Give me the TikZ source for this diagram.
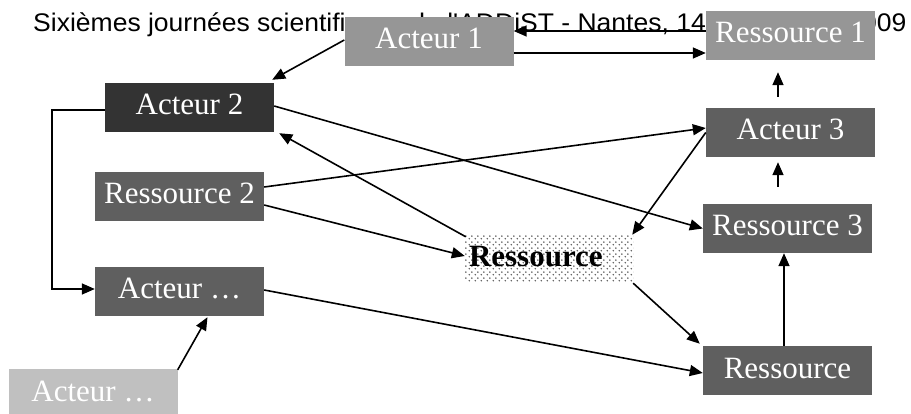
\documentclass[tikz,border=0pt]{standalone}
\usepackage{fontspec}
\setmainfont{Liberation Serif}
\newfontfamily\headfont{Liberation Sans}
\usetikzlibrary{arrows.meta,calc,patterns}

% staggered rows of small dots
\pgfdeclarepatternformonly{staggerdots}{\pgfqpoint{0pt}{0pt}}{\pgfqpoint{6pt}{6pt}}{\pgfqpoint{6pt}{6pt}}{%
  \pgfpathcircle{\pgfqpoint{1.5pt}{1.5pt}}{0.95pt}%
  \pgfpathcircle{\pgfqpoint{4.5pt}{4.5pt}}{0.95pt}%
  \pgfusepath{fill}}

\definecolor{boxlight}{HTML}{969696}
\definecolor{boxdark}{HTML}{333333}
\definecolor{boxmid}{HTML}{5F5F5F}
\definecolor{boxpale}{HTML}{C0C0C0}
\definecolor{dotgray}{HTML}{5A5A5A}

\tikzset{
  box/.style={minimum width=169pt, minimum height=49pt, inner sep=0pt,
    text=white, font=\fontsize{31}{36}\selectfont,
    text height=22pt, text depth=7pt},
  conn/.style={line width=1.6pt, -{Triangle[length=13pt,width=11pt]}},
}

\begin{document}
\begin{tikzpicture}[x=1pt,y=-1pt]
  \useasboundingbox (0,0) rectangle (911,414);
  \clip (0,0) rectangle (911,414);
  \fill[white] (0,0) rectangle (911,414);

  % running header, partly covered by the boxes
  \node[anchor=base west, inner sep=0pt, font=\headfont\fontsize{25.5}{30}\selectfont]
    (hdr) at (33,32) {\scalebox{1.04}[1]{Sixièmes journées scientifiques de l'ADDiST - Nantes, 14-15 octobre 2009}};

  % boxes
  \node[box, fill=boxlight] (a1) at (429,41.5)   {Acteur 1};
  \node[box, fill=boxlight] (r1) at (790.5,35.5) {Ressource 1};
  \node[box, fill=boxdark]  (a2) at (189.5,107.5) {Acteur 2};
  \node[box, fill=boxmid]   (r2) at (179.5,196.5) {Ressource 2};
  \node[box, fill=boxmid]   (a3) at (790.5,132.5) {Acteur 3};
  \node[box, fill=boxmid]   (r3) at (787.5,228.5) {Ressource 3};
  \node[box, fill=boxmid]   (ax) at (179.5,291.5) {Acteur …};
  \node[box, fill=boxpale]  (ab) at (93,393.5)    {Acteur …};
  \node[box, fill=boxmid]   (rb) at (787.5,370.5) {Ressource};
  \node[box, minimum width=168pt, minimum height=48pt, text width=160pt, align=left,
        inner xsep=4pt, text=black, font=\bfseries\fontsize{31}{36}\selectfont,
        pattern=staggerdots, pattern color=dotgray] (rc) at (549,259) {Ressource};

  % connectors
  \draw[conn] ($(a1.west)+(0,-1.5)$) -- ($(a2.north east)+(-2,-3)$);
  \draw[conn] ($(r1.west)+(0,-4.5)$) -- ($(a1.east)+(0,-10.5)$);
  \draw[conn] ($(a1.east)+(0,11.5)$) -- ($(r1.west)+(0,17.5)$);
  \draw[conn] ($(a3.north)+(-12.5,-11)$) -- ($(r1.south)+(-12.5,12)$);
  \draw[conn] ($(r3.north)+(-9.5,-17)$) -- ($(a3.south)+(-12.5,5)$);
  \draw[conn] ($(rb.north)+(-3.5,0)$) -- ($(r3.south)+(-3.5,0)$);
  \draw[conn] ($(a2.east)+(0,-1.5)$) -- (r3.west);
  \draw[conn] ($(r2.east)+(0,-9.5)$) -- ($(a3.west)+(0,-4.5)$);
  \draw[conn] ($(rc.north west)+(1,2)$) -- ($(a2.south east)+(5,1)$);
  \draw[conn] ($(r2.east)+(0,8.5)$) -- ($(rc.west)+(0,-3)$);
  \draw[conn] (a3.west) -- ($(rc.north east)+(-1,0)$);
  \draw[conn] (rc.south east) -- ($(rb.north west)+(-3,-2)$);
  \draw[conn] ($(ax.east)+(0,-1.5)$) -- ($(rb.west)+(0,2.5)$);
  \coordinate (a2w) at ($(a2.west)+(0,2.5)$);
  \coordinate (axw) at ($(ax.west)+(0,-2.5)$);
  \draw[conn] (a2w) -- ++(-53,0) |- (axw);
  \draw[conn] ($(ab.north east)+(0,1)$) -- ($(ax.south)+(28,1)$);
\end{tikzpicture}
\end{document}
